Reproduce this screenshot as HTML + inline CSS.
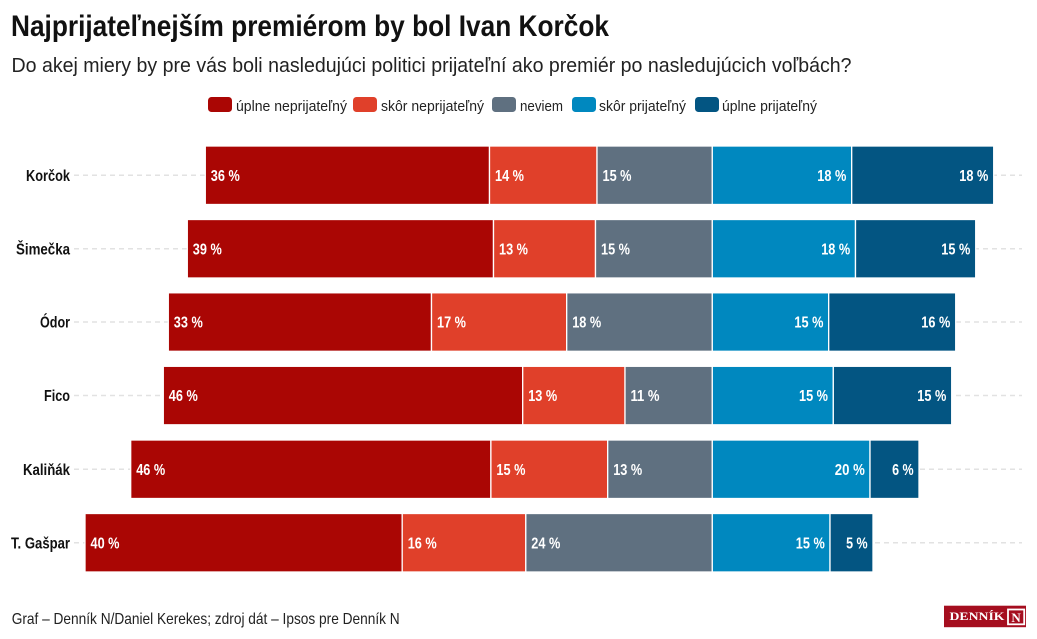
<!DOCTYPE html>
<html>
<head>
<meta charset="utf-8">
<style>
html,body{margin:0;padding:0;background:#fff;}
svg{display:block;}
text{font-family:"Liberation Sans Narrow","Liberation Sans",sans-serif;}
</style>
</head>
<body>
<svg width="1037" height="639" viewBox="0 0 1037 639" xmlns="http://www.w3.org/2000/svg">
<rect x="0" y="0" width="1037" height="639" fill="#fff"/>

<!-- Title -->
<text x="11" y="36" font-size="29.5" font-weight="bold" fill="#111" textLength="598" lengthAdjust="spacingAndGlyphs">Najprijateľnejším premiérom by bol Ivan Korčok</text>
<text x="11.5" y="72" font-size="20" fill="#222" textLength="840" lengthAdjust="spacingAndGlyphs">Do akej miery by pre vás boli nasledujúci politici prijateľní ako premiér po nasledujúcich voľbách?</text>

<!-- Legend -->
<g font-size="15" fill="#222">
<rect x="208" y="97" width="24" height="15" rx="3.5" fill="#aa0604"/>
<text x="236" y="111" textLength="111" lengthAdjust="spacingAndGlyphs">úplne neprijateľný</text>
<rect x="353" y="97" width="24" height="15" rx="3.5" fill="#e0402a"/>
<text x="381" y="111" textLength="103" lengthAdjust="spacingAndGlyphs">skôr neprijateľný</text>
<rect x="492" y="97" width="24" height="15" rx="3.5" fill="#5f7080"/>
<text x="520" y="111" textLength="43" lengthAdjust="spacingAndGlyphs">neviem</text>
<rect x="572" y="97" width="24" height="15" rx="3.5" fill="#0088bf"/>
<text x="599" y="111" textLength="87" lengthAdjust="spacingAndGlyphs">skôr prijateľný</text>
<rect x="695" y="97" width="24" height="15" rx="3.5" fill="#035582"/>
<text x="722" y="111" textLength="95" lengthAdjust="spacingAndGlyphs">úplne prijateľný</text>
</g>

<!-- Dashed grid lines -->
<g stroke="#e2e2e2" stroke-width="1.5" stroke-dasharray="5 4">
<line x1="74" y1="175.25" x2="1022" y2="175.25"/>
<line x1="74" y1="248.75" x2="1022" y2="248.75"/>
<line x1="74" y1="322" x2="1022" y2="322"/>
<line x1="74" y1="395.5" x2="1022" y2="395.5"/>
<line x1="74" y1="469.25" x2="1022" y2="469.25"/>
<line x1="74" y1="542.75" x2="1022" y2="542.75"/>
</g>

<!-- Row labels -->
<g font-size="15.5" font-weight="bold" fill="#111" text-anchor="end">
<text x="70" y="180.8" textLength="44" lengthAdjust="spacingAndGlyphs">Korčok</text>
<text x="70" y="254.3" textLength="54" lengthAdjust="spacingAndGlyphs">Šimečka</text>
<text x="70" y="327.5" textLength="30" lengthAdjust="spacingAndGlyphs">Ódor</text>
<text x="70" y="401" textLength="26" lengthAdjust="spacingAndGlyphs">Fico</text>
<text x="70" y="474.8" textLength="47" lengthAdjust="spacingAndGlyphs">Kaliňák</text>
<text x="70" y="548.3" textLength="59" lengthAdjust="spacingAndGlyphs">T. Gašpar</text>
</g>

<!-- Bars -->
<g stroke="#fff" stroke-width="1.3">
<rect x="205.3" y="146" width="284.2" height="58.5" fill="#aa0604"/>
<rect x="489.5" y="146" width="107.5" height="58.5" fill="#e0402a"/>
<rect x="597" y="146" width="115.3" height="58.5" fill="#5f7080"/>
<rect x="712.3" y="146" width="139.4" height="58.5" fill="#0088bf"/>
<rect x="851.7" y="146" width="142" height="58.5" fill="#035582"/>

<rect x="187.3" y="219.5" width="306.2" height="58.5" fill="#aa0604"/>
<rect x="493.5" y="219.5" width="102" height="58.5" fill="#e0402a"/>
<rect x="595.5" y="219.5" width="116.8" height="58.5" fill="#5f7080"/>
<rect x="712.3" y="219.5" width="143.2" height="58.5" fill="#0088bf"/>
<rect x="855.5" y="219.5" width="120.2" height="58.5" fill="#035582"/>

<rect x="168.3" y="292.8" width="263.2" height="58.5" fill="#aa0604"/>
<rect x="431.5" y="292.8" width="135.2" height="58.5" fill="#e0402a"/>
<rect x="566.7" y="292.8" width="145.6" height="58.5" fill="#5f7080"/>
<rect x="712.3" y="292.8" width="116.4" height="58.5" fill="#0088bf"/>
<rect x="828.7" y="292.8" width="127" height="58.5" fill="#035582"/>

<rect x="163.3" y="366.3" width="359.4" height="58.5" fill="#aa0604"/>
<rect x="522.7" y="366.3" width="102.3" height="58.5" fill="#e0402a"/>
<rect x="625" y="366.3" width="87.3" height="58.5" fill="#5f7080"/>
<rect x="712.3" y="366.3" width="121" height="58.5" fill="#0088bf"/>
<rect x="833.3" y="366.3" width="118.4" height="58.5" fill="#035582"/>

<rect x="130.7" y="440" width="360.2" height="58.5" fill="#aa0604"/>
<rect x="490.9" y="440" width="116.8" height="58.5" fill="#e0402a"/>
<rect x="607.7" y="440" width="104.6" height="58.5" fill="#5f7080"/>
<rect x="712.3" y="440" width="157.7" height="58.5" fill="#0088bf"/>
<rect x="870" y="440" width="49" height="58.5" fill="#035582"/>

<rect x="85" y="513.5" width="317.2" height="58.5" fill="#aa0604"/>
<rect x="402.2" y="513.5" width="123.6" height="58.5" fill="#e0402a"/>
<rect x="525.8" y="513.5" width="186.5" height="58.5" fill="#5f7080"/>
<rect x="712.3" y="513.5" width="117.7" height="58.5" fill="#0088bf"/>
<rect x="830" y="513.5" width="43" height="58.5" fill="#035582"/>
</g>

<!-- Value labels -->
<g font-size="15.5" font-weight="bold" fill="#fff">
<text x="210.8" y="181" textLength="29" lengthAdjust="spacingAndGlyphs">36 %</text>
<text x="495" y="181" textLength="29" lengthAdjust="spacingAndGlyphs">14 %</text>
<text x="602.5" y="181" textLength="29" lengthAdjust="spacingAndGlyphs">15 %</text>

<text x="192.8" y="254.5" textLength="29" lengthAdjust="spacingAndGlyphs">39 %</text>
<text x="499" y="254.5" textLength="29" lengthAdjust="spacingAndGlyphs">13 %</text>
<text x="601" y="254.5" textLength="29" lengthAdjust="spacingAndGlyphs">15 %</text>

<text x="173.8" y="327.7" textLength="29" lengthAdjust="spacingAndGlyphs">33 %</text>
<text x="437" y="327.7" textLength="29" lengthAdjust="spacingAndGlyphs">17 %</text>
<text x="572.2" y="327.7" textLength="29" lengthAdjust="spacingAndGlyphs">18 %</text>

<text x="168.8" y="401.2" textLength="29" lengthAdjust="spacingAndGlyphs">46 %</text>
<text x="528.2" y="401.2" textLength="29" lengthAdjust="spacingAndGlyphs">13 %</text>
<text x="630.5" y="401.2" textLength="29" lengthAdjust="spacingAndGlyphs">11 %</text>

<text x="136.2" y="475" textLength="29" lengthAdjust="spacingAndGlyphs">46 %</text>
<text x="496.4" y="475" textLength="29" lengthAdjust="spacingAndGlyphs">15 %</text>
<text x="613.2" y="475" textLength="29" lengthAdjust="spacingAndGlyphs">13 %</text>

<text x="90.5" y="548.5" textLength="29" lengthAdjust="spacingAndGlyphs">40 %</text>
<text x="407.7" y="548.5" textLength="29" lengthAdjust="spacingAndGlyphs">16 %</text>
<text x="531.3" y="548.5" textLength="29" lengthAdjust="spacingAndGlyphs">24 %</text>
</g>
<g font-size="15.5" font-weight="bold" fill="#fff" text-anchor="end">
<text x="846.3" y="181" textLength="29" lengthAdjust="spacingAndGlyphs">18 %</text>
<text x="988.3" y="181" textLength="29" lengthAdjust="spacingAndGlyphs">18 %</text>

<text x="850.2" y="254.5" textLength="29" lengthAdjust="spacingAndGlyphs">18 %</text>
<text x="970.3" y="254.5" textLength="29" lengthAdjust="spacingAndGlyphs">15 %</text>

<text x="823.4" y="327.7" textLength="29" lengthAdjust="spacingAndGlyphs">15 %</text>
<text x="950.3" y="327.7" textLength="29" lengthAdjust="spacingAndGlyphs">16 %</text>

<text x="828" y="401.2" textLength="29" lengthAdjust="spacingAndGlyphs">15 %</text>
<text x="946.3" y="401.2" textLength="29" lengthAdjust="spacingAndGlyphs">15 %</text>

<text x="864.8" y="475" textLength="30" lengthAdjust="spacingAndGlyphs">20 %</text>
<text x="913.6" y="475" textLength="21.5" lengthAdjust="spacingAndGlyphs">6 %</text>

<text x="824.8" y="548.5" textLength="29" lengthAdjust="spacingAndGlyphs">15 %</text>
<text x="867.6" y="548.5" textLength="21.5" lengthAdjust="spacingAndGlyphs">5 %</text>
</g>

<!-- Footer -->
<text x="11.7" y="624" font-size="16" fill="#222" textLength="388" lengthAdjust="spacingAndGlyphs">Graf – Denník N/Daniel Kerekes; zdroj dát – Ipsos pre Denník N</text>

<!-- Logo -->
<rect x="944" y="605.7" width="82" height="21.5" fill="#a50e1f"/>
<text x="949.5" y="620" font-size="11.5" font-weight="bold" fill="#fff" textLength="55" lengthAdjust="spacingAndGlyphs" style="font-family:'Liberation Serif',serif">DENNÍK</text>
<rect x="1008" y="609.5" width="16.2" height="14.8" fill="none" stroke="#fff" stroke-width="1.8"/>
<text x="1016.1" y="622" font-size="13" font-weight="bold" fill="#fff" text-anchor="middle" style="font-family:'Liberation Serif',serif">N</text>
</svg>
</body>
</html>
